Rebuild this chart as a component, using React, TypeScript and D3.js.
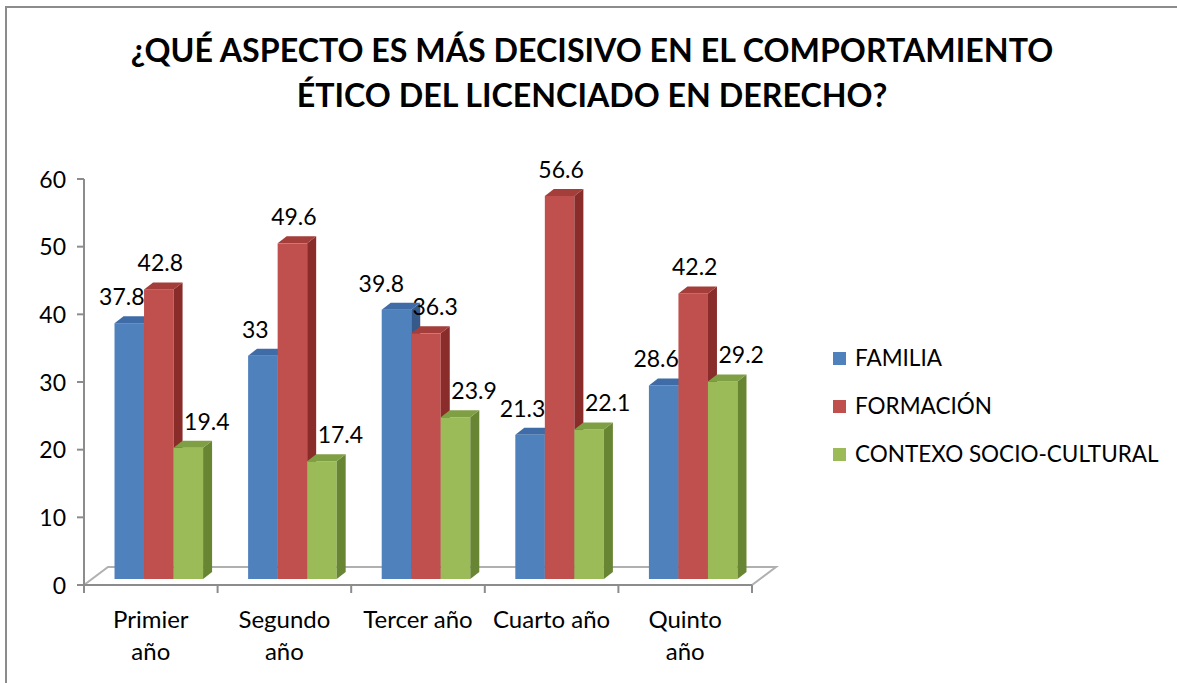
import React from "react";
import * as d3 from "d3";

const categories = ["Primier año", "Segundo año", "Tercer año", "Cuarto año", "Quinto año"];
const categoryLines = [["Primier", "año"], ["Segundo", "año"], ["Tercer año"], ["Cuarto año"], ["Quinto", "año"]];
const seriesNames = ["FAMILIA", "FORMACIÓN", "CONTEXO SOCIO-CULTURAL"];
const familia = [37.8, 33, 39.8, 21.3, 28.6];
const formacion = [42.8, 49.6, 36.3, 56.6, 42.2];
const contexto = [19.4, 17.4, 23.9, 22.1, 29.2];
const yTicks = [0, 10, 20, 30, 40, 50, 60];
const titleLines = ["¿QUÉ ASPECTO ES MÁS DECISIVO EN EL COMPORTAMIENTO", "ÉTICO DEL LICENCIADO EN DERECHO?"];

const seriesValues = [familia, formacion, contexto];
const colors = [
  { front: "#4F81BD", side: "#34598A", top: "#3F6CA6" },
  { front: "#C0504D", side: "#8A2C2A", top: "#A33E3B" },
  { front: "#9BBB59", side: "#688534", top: "#7F9F44" },
];
const labelNudge = [-12, -3, 14];

const W = 1177;
const H = 683;
const FONT = "Lato, 'Liberation Sans', sans-serif";
const LABEL_SIZE = 23;

export default function App() {
  const plotLeft = 84;
  const plotRight = 752;
  const y = d3.scaleLinear().domain([0, 60]).range([585, 179]);
  const x = d3.scaleBand<string>().domain(categories).range([plotLeft, plotRight]).padding(0);
  const bw = x.bandwidth();
  const gap = bw * 0.337;
  const inner = d3.scaleBand<string>().domain(seriesNames).range([gap / 2, bw - gap / 2]).padding(0);
  const barW = inner.bandwidth();
  const off = { x: 8, y: -6 };
  const depth = { x: 9, y: -7 };
  const floorD = { x: 24, y: -18 };

  const bars: JSX.Element[] = [];
  const labels: JSX.Element[] = [];
  categories.forEach((c, ci) => {
    const pos: { x: number; y: number; w: number; v: number }[] = [];
    seriesNames.forEach((s, si) => {
      const v = seriesValues[si][ci];
      const x0 = (x(c) as number) + (inner(s) as number) + off.x;
      const x1 = x0 + barW;
      const yb = y(0) + off.y;
      const yt = y(v) + off.y;
      const col = colors[si];
      bars.push(
        <g key={`b-${ci}-${si}`}>
          <rect x={x0} y={yt} width={barW} height={yb - yt} fill={col.front} />
          <polygon
            points={`${x1},${yt} ${x1 + depth.x},${yt + depth.y} ${x1 + depth.x},${yb + depth.y} ${x1},${yb}`}
            fill={col.side}
          />
          <polygon
            points={`${x0},${yt} ${x1},${yt} ${x1 + depth.x},${yt + depth.y} ${x0 + depth.x},${yt + depth.y}`}
            fill={col.top}
          />
        </g>
      );
      const str = String(v);
      pos.push({
        x: x0 + barW / 2 + depth.x / 2 + labelNudge[si],
        y: yt - 18,
        w: str.length * LABEL_SIZE * 0.52,
        v,
      });
    });
    // simple collision avoidance between neighbouring labels
    for (let i = 0; i < pos.length - 1; i++) {
      const a = pos[i];
      const b = pos[i + 1];
      if (Math.abs(a.y - b.y) < LABEL_SIZE * 1.2) {
        const overlap = a.x + a.w / 2 + 6 - (b.x - b.w / 2);
        if (overlap > 0) {
          a.x -= overlap / 2;
          b.x += overlap / 2;
        }
      }
    }
    pos.forEach((p, si) => {
      labels.push(
        <text key={`l-${ci}-${si}`} x={p.x} y={p.y} textAnchor="middle" fontSize={LABEL_SIZE} fill="#000">
          {p.v}
        </text>
      );
    });
  });

  return (
    <svg
      width={W}
      height={H}
      style={{ position: "absolute", left: 0, top: 0, background: "#fff" }}
      fontFamily={FONT}
    >
      <rect x={6} y={7} width={W + 20} height={H + 20} fill="#fff" stroke="#8c8c8c" strokeWidth={2} />
      {titleLines.map((t, i) => (
        <text key={t} x={592} y={62 + i * 44.5} textAnchor="middle" fontWeight="bold" fontSize={32.2} fill="#000">
          {t}
        </text>
      ))}
      {/* floor */}
      <polygon
        points={`${plotLeft},${y(0)} ${plotRight},${y(0)} ${plotRight + floorD.x},${y(0) + floorD.y} ${plotLeft + floorD.x},${y(0) + floorD.y}`}
        fill="none"
        stroke="#B0B0B0"
        strokeWidth={2}
      />
      {/* y axis */}
      <line x1={plotLeft} x2={plotLeft} y1={y(60)} y2={y(0) + 8} stroke="#8c8c8c" strokeWidth={2} />
      {yTicks.map((t) => (
        <g key={`yt-${t}`}>
          <line x1={plotLeft - 7} x2={plotLeft} y1={y(t)} y2={y(t)} stroke="#8c8c8c" strokeWidth={2} />
          <text x={66} y={y(t) + 8.5} textAnchor="end" fontSize={23} fill="#000">
            {t}
          </text>
        </g>
      ))}
      {/* x axis ticks */}
      <line x1={plotLeft - 7} x2={plotRight} y1={y(0)} y2={y(0)} stroke="#8c8c8c" strokeWidth={2} />
      {categories.map((c, i) => (
        <line
          key={`xt-${i}`}
          x1={(x(c) as number) + bw}
          x2={(x(c) as number) + bw}
          y1={y(0)}
          y2={y(0) + 8}
          stroke="#8c8c8c"
          strokeWidth={2}
        />
      ))}
      {categories.map((c, i) => (
        <text key={`xl-${i}`} textAnchor="middle" fontSize={24} fill="#000">
          {categoryLines[i].map((ln, li) => (
            <tspan key={li} x={(x(c) as number) + bw / 2} y={628 + li * 32}>
              {ln}
            </tspan>
          ))}
        </text>
      ))}
      {bars}
      {labels}
      {/* legend */}
      {seriesNames.map((s, i) => (
        <g key={`lg-${s}`}>
          <rect x={833} y={352 + i * 48} width={13} height={13} fill={colors[i].front} />
          <text x={855} y={366 + i * 48} fontSize={22.5} fill="#000">
            {s}
          </text>
        </g>
      ))}
    </svg>
  );
}
